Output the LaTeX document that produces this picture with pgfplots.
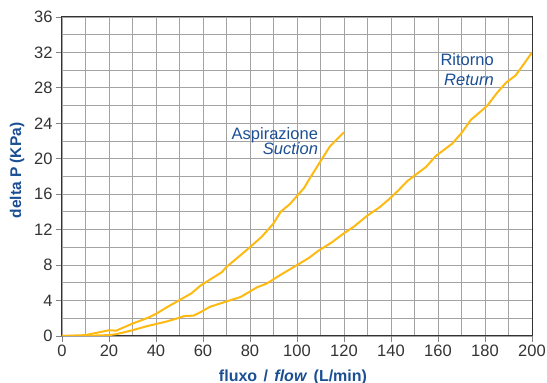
\documentclass[border=0pt]{standalone}
\usepackage{pgfplots}
\pgfplotsset{compat=1.18}
\usepackage{fontspec}
\setmainfont{Liberation Sans}
\definecolor{curve}{HTML}{FDBA12}
\definecolor{lblue}{HTML}{1B4F93}
\definecolor{gridc}{HTML}{A3A3A3}
\definecolor{tickc}{HTML}{333333}
\begin{document}
\begin{tikzpicture}
\useasboundingbox (-62pt,-47pt) rectangle (485pt,336pt);
\begin{axis}[
  at={(0,0)}, anchor=south west,
  scale only axis,
  width=470pt, height=319pt,
  xmin=0, xmax=200, ymin=0, ymax=36,
  xtick={0,20,...,200}, ytick={0,4,...,36},
  minor xtick={10,30,...,190}, minor ytick={2,6,...,34},
  grid=both,
  major grid style={gridc, line width=0.9pt},
  minor grid style={gridc, line width=0.9pt},
  axis line style={black!80, line width=1pt},
  tick align=outside,
  major tick length=6pt, minor tick length=0pt,
  tick style={gridc!80!black, line width=0.8pt},
  xtick pos=bottom, ytick pos=left,
  /pgf/number format/assume math mode=true,
  ticklabel style={font=\fontsize{16.5}{17}\selectfont, text=tickc},
  xticklabel style={yshift=1pt},
  xlabel={\textbf{fluxo\hspace{0.4em}/\hspace{0.4em}\textit{flow}\hspace{0.4em}(L/min)}},
  ylabel={\textbf{delta P (KPa)}},
  xlabel style={font=\fontsize{16}{17}\selectfont, text=lblue, at={(axis description cs:0.4915,-0.1411)}, anchor=base},
  ylabel style={font=\fontsize{15.5}{16}\selectfont, text=lblue, at={(axis description cs:-0.0957,0.5188)}, anchor=center},
]
\addplot[curve, line width=2pt, line join=round] coordinates {
(0,0) (10,0.1) (20,0.65) (23,0.6) (30,1.4) (37,2.1) (40,2.5) (45,3.3)
(50,4.05) (55,4.8) (59,5.7) (62,6.2) (68,7.2) (70,7.8) (75,8.9) (79,9.8)
(85,11.2) (90,12.7) (93,14.0) (97,14.9) (100,15.8) (103,16.7) (105,17.6)
(109,19.3) (114,21.4) (117,22.2) (120,23.0)
};
\addplot[curve, line width=2pt, line join=round] coordinates {
(0,0) (10,0.02) (20,0.1) (23,0.2) (30,0.65) (36,1.1) (44,1.6) (48,1.9)
(52,2.25) (56,2.3) (59,2.7) (63,3.3) (70,3.9) (76,4.4) (83,5.5) (87,5.9)
(93,6.9) (100,8.0) (105,8.8) (109,9.6) (115,10.6) (120,11.6) (124,12.3)
(130,13.6) (135,14.5) (139,15.4) (143,16.4) (147,17.5) (150,18.1) (155,19.1)
(159,20.3) (163,21.1) (166,21.7) (170,22.9) (174,24.4) (178,25.3) (181,26.0)
(185,27.4) (189,28.6) (193,29.4) (196,30.5) (200,32.0)
};
\node[anchor=base east, text=lblue, font=\fontsize{16.5}{17}\selectfont, inner sep=0pt] at (axis cs:109,22.2) {Aspirazione};
\node[anchor=base east, text=lblue, font=\fontsize{16.5}{17}\selectfont\itshape, inner sep=0pt] at (axis cs:109,20.43) {Suction};
\node[anchor=base east, text=lblue, font=\fontsize{16.5}{17}\selectfont, inner sep=0pt] at (axis cs:183.8,30.5) {Ritorno};
\node[anchor=base east, text=lblue, font=\fontsize{16.5}{17}\selectfont\itshape, inner sep=0pt] at (axis cs:183.8,28.25) {Return};
\end{axis}
\end{tikzpicture}
\end{document}
